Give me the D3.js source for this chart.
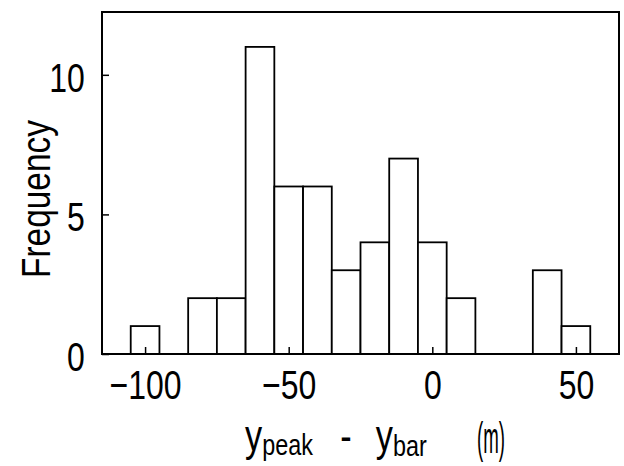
<!DOCTYPE html>
<html>
<head>
<meta charset="utf-8">
<script src="https://cdn.jsdelivr.net/npm/d3@7"></script>
<style>
  body { margin: 0; background: #fff; }
  svg text { font-family: "Liberation Sans", Arial, sans-serif; fill: #000; }
</style>
</head>
<body>
<div id="chart"></div>
<script>
// bin centres (m) and counts
const binCenters = [-100, -90, -80, -70, -60, -50, -40, -30, -20, -10, 0, 10, 20, 30, 40, 50];
const counts = [1, 0, 2, 2, 11, 6, 6, 3, 4, 7, 4, 2, 0, 0, 3, 1];
const binWidth = 10;

// tick values
const xTicks = [-100, -50, 0, 50];
const yTicks = [0, 5, 10];

const width = 624, height = 466;

const svg = d3.select("#chart")
    .append("svg")
    .attr("width", width)
    .attr("height", height);

// scales
const x = d3.scaleLinear()
    .domain([-115, 65])
    .range([102, 619]);

const y = d3.scaleLinear()
    .domain([0, 12.25])
    .range([354, 12]);

// bars
svg.selectAll(".bar")
    .data(binCenters.map((c, i) => ({ c: c, n: counts[i] })).filter(d => d.n > 0))
    .enter()
    .append("rect")
    .attr("class", "bar")
    .attr("x", d => x(d.c - binWidth / 2))
    .attr("y", d => y(d.n))
    .attr("width", d => x(d.c + binWidth / 2) - x(d.c - binWidth / 2))
    .attr("height", d => y(0) - y(d.n))
    .attr("fill", "#fff")
    .attr("stroke", "#000")
    .attr("stroke-width", 1.8);

// x axis, ticks pointing inwards
const gx = svg.append("g")
    .attr("transform", `translate(0,${y(0)})`)
    .call(d3.axisBottom(x).tickValues(xTicks).tickSizeInner(-7).tickSizeOuter(0).tickPadding(16));
gx.select(".domain").remove();
gx.selectAll("line").attr("stroke-width", 1.5);
gx.selectAll("text")
    .attr("font-size", 41)
    .attr("font-family", "Liberation Sans, Arial, sans-serif")
    .attr("transform", "scale(0.78,1)");

// y axis
const gy = svg.append("g")
    .attr("transform", `translate(${x.range()[0]},0)`)
    .call(d3.axisLeft(y).tickValues(yTicks).tickSizeInner(-7).tickSizeOuter(0).tickPadding(22));
gy.select(".domain").remove();
gy.selectAll("line").attr("stroke-width", 1.5);
gy.selectAll("text")
    .attr("font-size", 41)
    .attr("font-family", "Liberation Sans, Arial, sans-serif")
    .attr("dy", "0.4em")
    .attr("transform", "scale(0.78,1)");

// frame
svg.append("rect")
    .attr("x", x.range()[0])
    .attr("y", y.range()[1])
    .attr("width", x.range()[1] - x.range()[0])
    .attr("height", y.range()[0] - y.range()[1])
    .attr("fill", "none")
    .attr("stroke", "#000")
    .attr("stroke-width", 2);

// y title
svg.append("text")
    .attr("transform", "translate(49.5,199) rotate(-90)")
    .attr("text-anchor", "middle")
    .attr("font-size", 41)
    .attr("textLength", 158)
    .attr("lengthAdjust", "spacingAndGlyphs")
    .text("Frequency");

// x title: y_peak - y_bar   (m)
const xt = svg.append("text")
    .attr("transform", "translate(245,451) scale(0.78,1)")
    .attr("font-size", 44);
xt.append("tspan").text("y");
xt.append("tspan").attr("font-size", 30).attr("dy", 4).text("peak");
xt.append("tspan").attr("dy", -4).attr("dx", 35).text("-");
xt.append("tspan").attr("dx", 31).text("y");
xt.append("tspan").attr("font-size", 30).attr("dy", 5).text("bar");

svg.append("text")
    .attr("x", 477)
    .attr("y", 453)
    .attr("font-size", 44)
    .attr("textLength", 28)
    .attr("lengthAdjust", "spacingAndGlyphs")
    .text("(m)");
</script>
</body>
</html>
